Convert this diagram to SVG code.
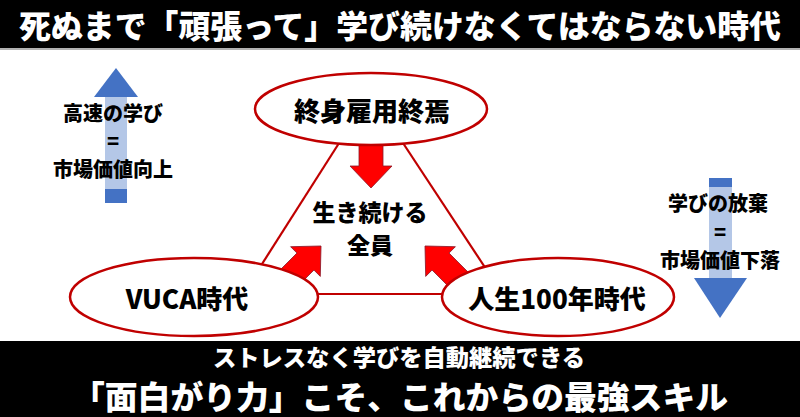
<svg xmlns="http://www.w3.org/2000/svg" width="800" height="417" viewBox="0 0 800 417">
<style>
.t{font-family:"Noto Sans CJK JP","Noto Sans",sans-serif;font-weight:900;fill:#000;text-anchor:middle}
.w{font-family:"Noto Sans CJK JP","Noto Sans",sans-serif;font-weight:900;fill:#fff;text-anchor:middle}
.ell{fill:#fff;stroke:#c00000;stroke-width:2.5}
.edge{stroke:#c00000;stroke-width:2.2;fill:none}
.ra{fill:#ff0000;stroke:#8b1a2a;stroke-width:0.8}
</style>
<defs>
<path id="arr" d="M0,0 L-22,-21 L-22,-12 L-65,-12 L-65,12 L-22,12 L-22,21 Z"/>
</defs>
<rect x="0" y="0" width="800" height="417" fill="#fff"/>
<g id="title">
<rect x="0" y="0" width="800" height="48" fill="#000"/>
<line x1="0" y1="49" x2="800" y2="49" stroke="#999" stroke-width="1.5"/>
<text class="w" x="400" y="38" font-size="32" textLength="762" lengthAdjust="spacingAndGlyphs">死ぬまで「頑張って」学び続けなくてはならない時代</text>
</g>
<g id="footer">
<rect x="0" y="341" width="800" height="76" fill="#000"/>
<text class="w" x="399" y="366" font-size="23" textLength="372" lengthAdjust="spacingAndGlyphs">ストレスなく学びを自動継続できる</text>
<text class="w" x="400" y="409" font-size="32" textLength="656" lengthAdjust="spacingAndGlyphs">「面白がり力」こそ、これからの最強スキル</text>
</g>
<g id="connectors">
<line class="edge" x1="341" y1="140" x2="255" y2="275"/>
<line class="edge" x1="401" y1="140" x2="490" y2="275"/>
<line class="edge" x1="300" y1="294" x2="460" y2="294"/>
<use href="#arr" class="ra" transform="translate(371,188) rotate(90)"/>
<use href="#arr" class="ra" transform="translate(321,246) rotate(-45)"/>
<use href="#arr" class="ra" transform="translate(425,246) rotate(-135)"/>
</g>
<g id="node-top">
<ellipse class="ell" cx="371" cy="109" rx="116" ry="36"/>
<text class="t" x="372" y="121" font-size="26">終身雇用終焉</text>
</g>
<g id="node-center">
<text class="t" x="370" y="221" font-size="23">生き続ける</text>
<text class="t" x="370" y="254" font-size="23">全員</text>
</g>
<g id="node-vuca">
<ellipse class="ell" cx="194" cy="297" rx="124" ry="39"/>
<text class="t" x="187" y="309" font-size="26">VUCA時代</text>
</g>
<g id="node-life">
<ellipse class="ell" cx="558" cy="297" rx="116" ry="39"/>
<text class="t" x="557" y="309" font-size="26">人生100年時代</text>
</g>
<g id="up-arrow">
<polygon points="116,68 138,97 94,97" fill="#4472c4"/>
<rect x="105" y="97" width="22" height="92" fill="#b4c7e7"/>
<rect x="105" y="189" width="22" height="14" fill="#4472c4"/>
<text class="t" x="113" y="121" font-size="20">高速の学び</text>
<text class="t" x="113" y="149" font-size="20">=</text>
<text class="t" x="113" y="177" font-size="20">市場価値向上</text>
</g>
<g id="down-arrow">
<rect x="709" y="178" width="23" height="9" fill="#4472c4"/>
<rect x="709" y="187" width="23" height="91" fill="#b4c7e7"/>
<polygon points="694,278 747,278 720,318" fill="#4472c4"/>
<text class="t" x="718" y="211" font-size="20">学びの放棄</text>
<text class="t" x="720" y="240" font-size="20">=</text>
<text class="t" x="720" y="268" font-size="20">市場価値下落</text>
</g>
</svg>
